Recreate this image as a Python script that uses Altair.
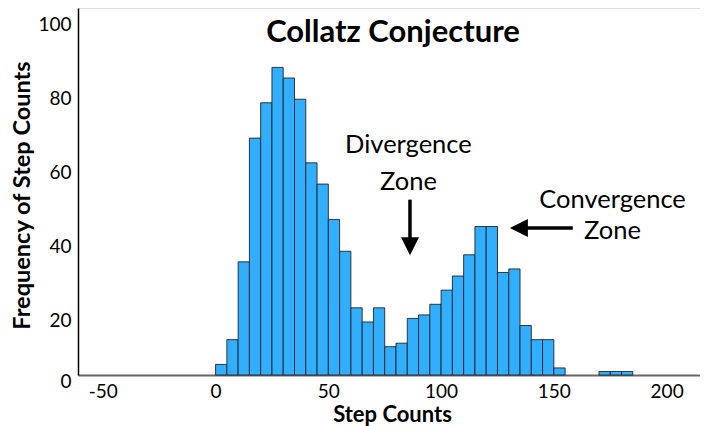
import altair as alt
import pandas as pd

# Histogram data (bin width 5)
bin_starts = [0, 5, 10, 15, 20, 25, 30, 35, 40, 45,
              50, 55, 60, 65, 70, 75, 80, 85, 90, 95,
              100, 105, 110, 115, 120, 125, 130, 135, 140, 145,
              150, 170, 175, 180]
counts = [3, 10, 32, 67, 77, 87, 84, 78, 60, 54,
          44, 35, 19, 15, 19, 8, 9, 16, 17, 20,
          24, 28, 34, 42, 42, 29, 30, 14, 10, 10,
          2, 1, 1, 1]
bin_width = 5

# Annotations (data coordinates)
ann_text = ["Divergence", "Zone", "Convergence", "Zone"]
ann_x = [85.5, 85.5, 176.0, 176.0]
ann_y = [65.0, 54.7, 49.6, 40.6]

arrow_x = [86.2, 158.4]
arrow_y = [49.6, 41.6]
arrow_x2 = [86.2, 134.5]
arrow_y2 = [36.4, 41.6]
head_x = [86.2, 134.5]
head_y = [36.4, 41.6]
head_shape = ["M-1,-1L1,-1L0,1Z", "M1,-1L1,1L-1,0Z"]

title_text = ["Collatz Conjecture"]

FONT = "Lato"

bars_df = pd.DataFrame({
    "start": bin_starts,
    "end": [b + bin_width for b in bin_starts],
    "count": counts,
})
ann_df = pd.DataFrame({"text": ann_text, "x": ann_x, "y": ann_y})
arrow_df = pd.DataFrame({"x": arrow_x, "y": arrow_y, "x2": arrow_x2, "y2": arrow_y2})
head_df = pd.DataFrame({"x": head_x, "y": head_y, "shape": head_shape})
title_df = pd.DataFrame({"t": title_text})

x_scale = alt.Scale(domain=[-61, 214.8], nice=False, zero=False)
y_scale = alt.Scale(domain=[0, 103.8], nice=False)

bars = alt.Chart(bars_df).mark_bar(
    color="#31AEFE", stroke="#1c1c1c", strokeWidth=1, strokeOpacity=0.85
).encode(
    x=alt.X("start:Q", scale=x_scale,
            axis=alt.Axis(title="Step Counts", values=[-50, 0, 50, 100, 150, 200],
                          labelExpr="'' + datum.value",
                          grid=False, ticks=False, tickSize=0, labelPadding=16,
                          labelBaseline="middle", labelFontSize=19, labelFont=FONT,
                          labelColor="black", domainColor="#666666", domainWidth=2,
                          titleFont=FONT, titleFontSize=22, titleFontWeight="bold",
                          titleColor="black", titleBaseline="middle", titleY=39.5,
                          titleX=314)),
    x2="end:Q",
    y=alt.Y("count:Q", scale=y_scale,
            axis=alt.Axis(title="Frequency of Step Counts", values=[0, 20, 40, 60, 80, 100],
                          grid=False, ticks=False, tickSize=0, labelPadding=7,
                          labelOffset={"expr": "datum.value == 0 ? 6 : (100 - datum.value) * 0.17 + 2.6"},
                          labelFontSize=19, labelFont=FONT, labelColor="black",
                          domainColor="black", domainWidth=1.5,
                          titleFont=FONT, titleFontSize=23.5, titleFontWeight="bold",
                          titleColor="black", titleBaseline="middle", titleX=-56,
                          titleY=187, titleAngle=-90)),
    y2=alt.datum(0),
)

texts = alt.Chart(ann_df).mark_text(
    font=FONT, fontSize=25.5, color="black", align="center", baseline="middle"
).encode(
    x=alt.X("x:Q", scale=x_scale),
    y=alt.Y("y:Q", scale=y_scale),
    text="text:N",
)

shafts = alt.Chart(arrow_df).mark_rule(color="black", strokeWidth=3.5).encode(
    x=alt.X("x:Q", scale=x_scale),
    y=alt.Y("y:Q", scale=y_scale),
    x2="x2:Q",
    y2="y2:Q",
)

heads = alt.Chart(head_df).mark_point(
    filled=True, color="black", opacity=1, size=324, strokeWidth=0
).encode(
    x=alt.X("x:Q", scale=x_scale),
    y=alt.Y("y:Q", scale=y_scale),
    shape=alt.Shape("shape:N", scale=None, legend=None),
)

title = alt.Chart(title_df).mark_text(
    font=FONT, fontSize=31, fontWeight="bold", color="black",
    align="center", baseline="alphabetic"
).encode(
    x=alt.value(315),
    y=alt.value(34),
    text="t:N",
)

chart = alt.layer(bars, texts, shafts, heads, title).properties(
    width=622,
    height=367,
    autosize=alt.AutoSizeParams(type="none"),
    padding={"left": 70, "top": 0, "right": 0, "bottom": 51},
).configure_view(stroke=None).configure(background="white")

chart.save("out.html", embed_options={"renderer": "svg", "actions": False})
